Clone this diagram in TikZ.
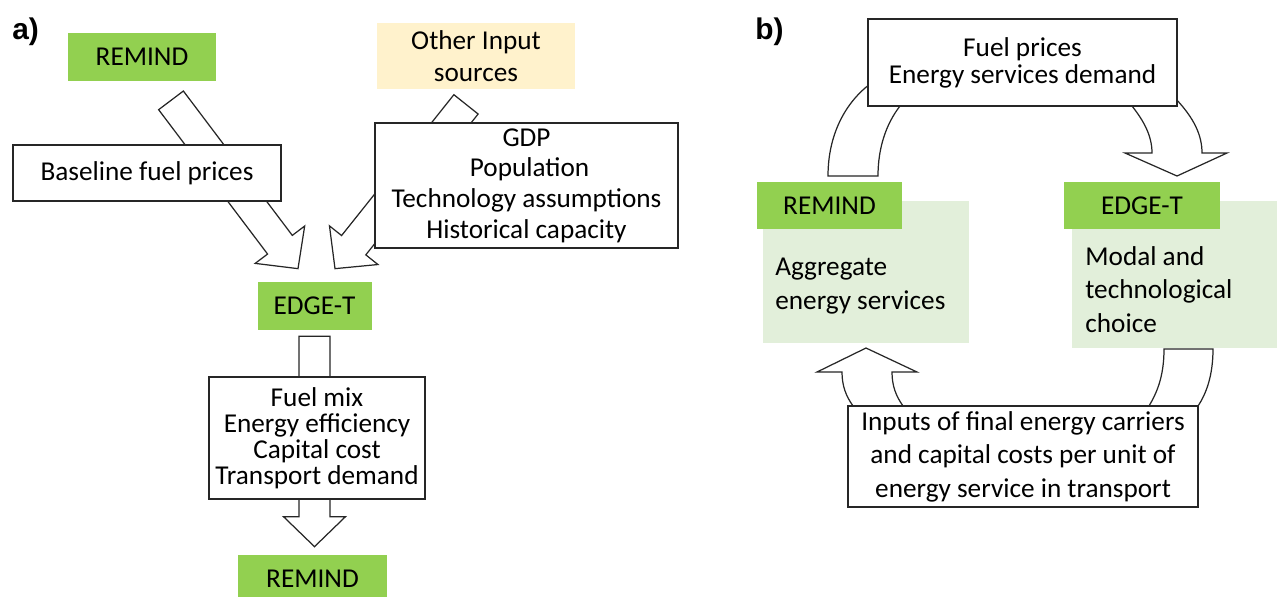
\documentclass[tikz,border=0pt]{standalone}
\usepackage{fontspec}
\setmainfont{Carlito}
\newfontfamily\panelfont{Liberation Sans}
\usetikzlibrary{calc,backgrounds}
\definecolor{modelgreen}{HTML}{92D050}
\definecolor{palegreen}{HTML}{E2EFDA}
\definecolor{inputbeige}{HTML}{FFF2CC}
\newcommand\pix{0.02cm}
\tikzset{
  every node/.style={font=\fontsize{15.5}{19}\selectfont,inner sep=0pt},
  model/.style={fill=modelgreen,minimum height=48*\pix},
  infobox/.style={draw=black!85,fill=white,line width=0.8pt,align=center},
  blockarr/.style={draw=black!85,fill=white,line width=0.7pt},
  panel/.style={font=\panelfont\bfseries\fontsize{17}{20}\selectfont,anchor=base west},
}
% straight block arrow from #1 to tip #2
\newcommand\blockarrow[2]{%
  \coordinate (ba) at ($(#2)!0.6cm!(#1)$);
  \draw[blockarr]($(#1)!0.31cm!90:(#2)$)--($(ba)!0.31cm!90:(#2)$)--($(ba)!0.62cm!90:(#2)$)--(#2)
    --($(ba)!0.62cm!-90:(#2)$)--($(ba)!0.31cm!-90:(#2)$)--($(#1)!0.31cm!-90:(#2)$)--cycle;}
\begin{document}
\begin{tikzpicture}[x=0.02cm,y=-0.02cm]
  \useasboundingbox (0,0) rectangle (1277,596);

  % a)
  \node[panel] (pa) at (12,39) {a)};
  \node[model,minimum width=148*\pix] (remindA) at (142,57) {REMIND};
  \node[fill=inputbeige,minimum width=198*\pix,minimum height=66*\pix,align=center,
        font=\fontsize{15.5}{18}\selectfont] (other) at (476,56) {Other Input\\sources};
  \node[infobox,minimum width=268*\pix,minimum height=56*\pix] (baseline) at (147,173) {Baseline fuel prices};
  \node[infobox,minimum width=303*\pix,minimum height=125*\pix,font=\fontsize{15.5}{17.4}\selectfont]
        (drivers) at (526.5,185.5) {GDP\\ \ Population\\Technology assumptions\\Historical capacity};
  \node[model,minimum width=114*\pix] (edgeA) at (314.5,306) {EDGE-T};
  \node[infobox,minimum width=216*\pix,minimum height=122*\pix,font=\fontsize{15.5}{14.8}\selectfont]
        (outputs) at (317,438) {Fuel mix\\Energy efficiency\\Capital cost\\Transport demand};
  \node[model,minimum width=149*\pix] (remindB) at (312.5,579) {REMIND};

  \begin{pgfonlayer}{background}
    \coordinate (t1) at ($(remindA.south)+(29,19)$);
    \coordinate (h1) at ($(edgeA.north)+(-16.5,-13)$);
    \coordinate (t2) at ($(other.south)+(-10,15)$);
    \coordinate (h2) at ($(edgeA.north)+(20.5,-13)$);
    \coordinate (t3) at ($(edgeA.south)+(0,6)$);
    \coordinate (h3) at ($(edgeA.south|-remindB.north)+(0,-8)$);
    \blockarrow{t1}{h1}
    \blockarrow{t2}{h2}
    \blockarrow{t3}{h3}
  \end{pgfonlayer}

  % b)
  \node[panel] (pb) at (755,39) {b)};
  \node[infobox,minimum width=309*\pix,minimum height=87*\pix,font=\fontsize{15.5}{15.3}\selectfont]
        (prices) at (1022.5,62.5) {Fuel prices\\Energy services demand};
  \node[fill=palegreen,minimum width=206*\pix,minimum height=142*\pix] (aggbox) at (866,272) {};
  \node[fill=palegreen,minimum width=208*\pix,minimum height=147*\pix] (modalbox) at (1176,274.5) {};
  \node[model,minimum width=145*\pix,minimum height=47*\pix] (remindC) at (829.5,205.5) {REMIND};
  \node[model,minimum width=156*\pix,minimum height=47*\pix] (edgeB) at (1142,205.5) {EDGE-T};
  \node[anchor=west,align=left] (aggtext) at (775,286) {Aggregate\\energy services};
  \node[anchor=west,align=left] (modaltext) at (1085,289.5) {Modal and\\technological\\choice};
  \node[infobox,minimum width=350*\pix,minimum height=101*\pix]
        (inputs) at (1023,456.5) {Inputs of final energy carriers\\and capital costs per unit of\\energy service in transport};

  \begin{pgfonlayer}{background}
    \draw[blockarr] (828,176) .. controls (828,135) and (845,103) .. (870,84)
      -- (905,90) -- (900,106) .. controls (886,124) and (878,148) .. (878,176) -- cycle;
    \draw[blockarr] (1175,98) .. controls (1194,118) and (1202,135) .. (1202,153)
      -- (1227,153) -- (1177,176) -- (1125,153) -- (1152,153)
      .. controls (1152,135) and (1143,120) .. (1132,106) -- (1150,95) -- cycle;
    \draw[blockarr] (1164,349) .. controls (1164,378) and (1156,394) .. (1149,406)
      -- (1198,406) .. controls (1206,394) and (1213,376) .. (1213,349) -- cycle;
    \draw[blockarr] (853,406) .. controls (846,396) and (842,386) .. (842,372)
      -- (817,372) -- (866,348) -- (917,372) -- (892,372)
      .. controls (892,386) and (896,396) .. (903,406) -- cycle;
  \end{pgfonlayer}
\end{tikzpicture}
\end{document}
